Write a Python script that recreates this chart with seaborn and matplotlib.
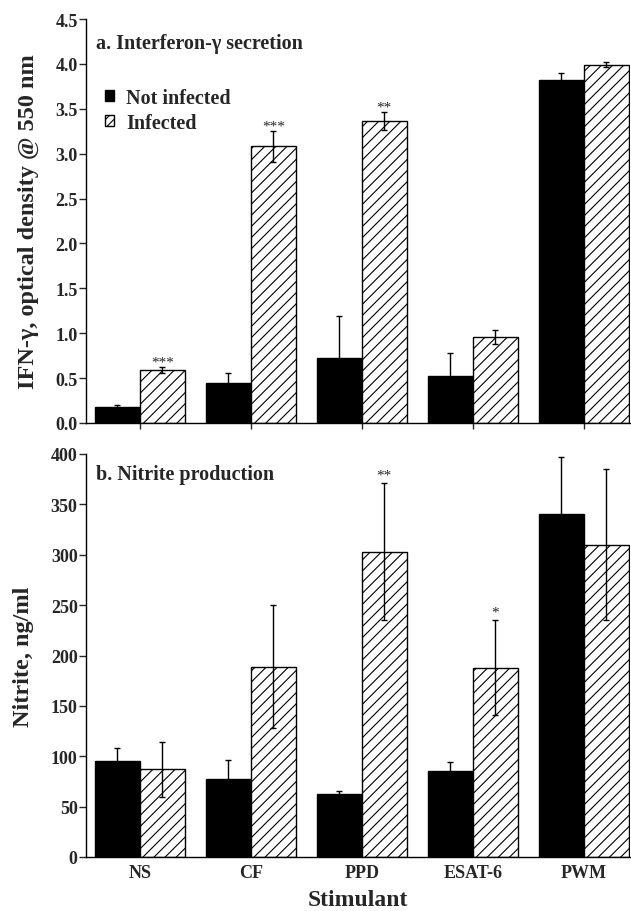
import numpy as np
import pandas as pd
import matplotlib
matplotlib.use("Agg")
import matplotlib.pyplot as plt
import seaborn as sns
from matplotlib.patches import Patch

stimulants = ["NS", "CF", "PPD", "ESAT-6", "PWM"]
groups = ["Not infected", "Infected"]

ifn_not = [0.18, 0.44, 0.72, 0.52, 3.82]
ifn_not_err = [0.02, 0.12, 0.47, 0.26, 0.08]
ifn_inf = [0.59, 3.08, 3.36, 0.96, 3.99]
ifn_inf_err = [0.03, 0.17, 0.10, 0.08, 0.03]
ifn_stars = ["***", "***", "**", "", ""]

nit_not = [95, 77, 63, 85, 340]
nit_not_err = [13, 19, 3, 9, 57]
nit_inf = [87, 189, 303, 188, 310]
nit_inf_err = [27, 61, 68, 47, 75]
nit_stars = ["", "", "**", "*", ""]

ifn_ticks = [0.0, 0.5, 1.0, 1.5, 2.0, 2.5, 3.0, 3.5, 4.0, 4.5]
nit_ticks = [0, 50, 100, 150, 200, 250, 300, 350, 400]

sns.set_theme(style="ticks")
plt.rcParams["font.family"] = ["Liberation Serif", "DejaVu Serif"]
plt.rcParams["font.weight"] = "bold"
plt.rcParams["hatch.linewidth"] = 0.8

fig = plt.figure(figsize=(6.31, 9.12), dpi=100)
ax1 = fig.add_axes([86/631, 1-424/912, 1-86/631-0.001, (424-20)/912])
ax2 = fig.add_axes([86/631, 1-858/912, 1-86/631-0.001, (858-455)/912])


def panel(ax, nv, ne, iv, ie, stars, ticks, fmt, star_off):
    df = pd.DataFrame({
        "Stimulant": stimulants * 2,
        "Group": [groups[0]] * 5 + [groups[1]] * 5,
        "Value": list(nv) + list(iv),
    })
    sns.barplot(data=df, x="Stimulant", y="Value", hue="Group",
                order=stimulants, hue_order=groups,
                palette=["black", "white"], edgecolor="black", linewidth=1.0,
                errorbar=None, width=0.81, gap=0, ax=ax, legend=False)
    cont_not, cont_inf = ax.containers[0], ax.containers[1]
    for p in cont_inf:
        p.set_hatch("///")
        p.set_facecolor("white")
        p.set_edgecolor("black")
    for cont, vals, errs in [(cont_not, nv, ne), (cont_inf, iv, ie)]:
        xs = [p.get_x() + p.get_width() / 2 for p in cont]
        ax.errorbar(xs, vals, yerr=errs, fmt="none", ecolor="black",
                    elinewidth=1.0, capsize=2.5, capthick=1.0, zorder=5)
    xs_inf = [p.get_x() + p.get_width() / 2 for p in cont_inf]
    for x, v, e, s in zip(xs_inf, iv, ie, stars):
        if s:
            ax.text(x, v + e + star_off, s, ha="center", va="bottom",
                    fontsize=11, fontweight="normal")
    ax.set_xlim(-0.486, 4.42)
    ax.set_ylim(ticks[0], ticks[-1])
    ax.set_yticks(ticks)
    ax.set_yticklabels([fmt(t) for t in ticks], fontsize=13, fontweight="bold")
    sns.despine(ax=ax, top=True, right=True)
    ax.tick_params(axis="y", length=5, width=1, direction="out", pad=1)
    for sp in ["left", "bottom"]:
        ax.spines[sp].set_linewidth(1.0)
        ax.spines[sp].set_color("black")


panel(ax1, ifn_not, ifn_not_err, ifn_inf, ifn_inf_err, ifn_stars,
      ifn_ticks, lambda t: f"{t:.1f}", -0.01)
ax1.tick_params(axis="x", length=4, width=1, direction="out")
ax1.set_xticklabels([])
ax1.set_xlabel("")
ax1.set_ylabel("IFN-γ, optical density @ 550 nm", fontsize=17.5,
               fontweight="bold", labelpad=12)
ax1.text(0.018, 0.965, "a. Interferon-γ secretion", transform=ax1.transAxes,
         fontsize=14.5, fontweight="bold", va="top", ha="left")
handles = [Patch(facecolor="black", edgecolor="black"),
           Patch(facecolor="white", edgecolor="black", hatch="////")]
ax1.legend(handles, groups, loc="upper left", bbox_to_anchor=(0.035, 0.83),
           frameon=False, handlelength=0.45, handleheight=0.4,
           handletextpad=0.6, labelspacing=0.25, borderpad=0, borderaxespad=0,
           prop={"family": "Liberation Serif", "weight": "bold", "size": 14.5})

panel(ax2, nit_not, nit_not_err, nit_inf, nit_inf_err, nit_stars,
      nit_ticks, lambda t: f"{t:d}", 2)
ax2.tick_params(axis="x", length=3, width=1, direction="in", pad=5)
ax2.set_xticks(range(len(stimulants)))
ax2.set_xticklabels(stimulants, fontsize=13, fontweight="bold")
ax2.set_xlabel("Stimulant", fontsize=17, fontweight="bold", labelpad=6)
ax2.set_ylabel("Nitrite, ng/ml", fontsize=17.5, fontweight="bold", labelpad=12)
ax2.text(0.018, 0.975, "b. Nitrite production", transform=ax2.transAxes,
         fontsize=14.5, fontweight="bold", va="top", ha="left")

fig.savefig("out.png", dpi=100)
